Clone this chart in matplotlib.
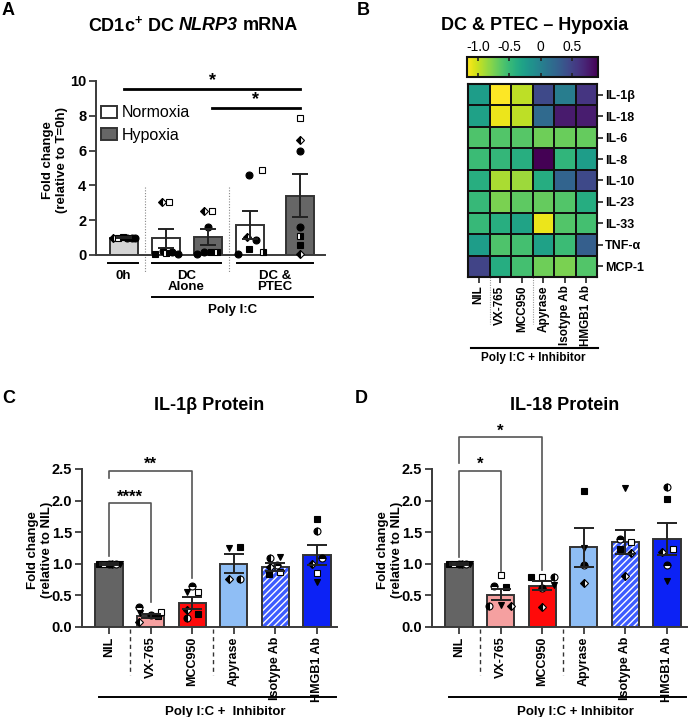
import matplotlib
matplotlib.use('Agg')
import matplotlib.pyplot as plt
import numpy as np
from matplotlib.patches import Patch

plt.rcParams['font.family'] = ['Liberation Sans', 'DejaVu Sans']
plt.rcParams['font.weight'] = 'bold'
plt.rcParams['mathtext.fontset'] = 'custom'
plt.rcParams['mathtext.rm'] = 'Liberation Sans:bold'
plt.rcParams['mathtext.it'] = 'Liberation Sans:italic:bold'
plt.rcParams['mathtext.bf'] = 'Liberation Sans:bold'
plt.rcParams['hatch.linewidth'] = 1.0

W, H = 696, 717

# ------------------------------------------------------------------ data
# Panel A: CD1c+ DC NLRP3 mRNA
a_means = [1.0, 0.96, 1.05, 1.72, 3.40]
a_sem = [0.03, 0.55, 0.46, 0.81, 1.24]
a_pts = [
    [1.0, 1.0, 1.01, 0.99, 1.0, 1.0],
    [0.05, 0.25, 3.05, 3.05, 0.1, 0.2, 0.05],
    [2.55, 2.55, 1.6, 0.05, 0.2, 0.2, 0.2],
    [0.05, 4.57, 4.9, 1.05, 0.85, 0.35, 0.2],
    [7.87, 6.62, 5.98, 1.6, 1.1, 0.55, 0.05],
]
a_codes = [
    ['d', 'S', 's', 'o', 'o', 'o'],
    ['s', 'o', 'd', 'S', 'H', 'o', 'o'],
    ['d', 'S', 'o', 'o', 'o', 's', 'H'],
    ['o', 'o', 'S', 'd', 'o', 's', 'H'],
    ['S', 'd', 'o', 'o', 'H', 's', 'd'],
]
a_groups = ['0h', 'DC\nAlone', 'DC &\nPTEC']
a_legend = ['Normoxia', 'Hypoxia']

# Panel B: heatmap
b_cols = ['NIL', 'VX-765', 'MCC950', 'Apyrase', 'Isotype Ab', 'HMGB1 Ab']
b_rows = ['IL-1β', 'IL-18', 'IL-6', 'IL-8', 'IL-10', 'IL-23', 'IL-33', 'TNF-α', 'MCP-1']
b_values = [
    [-0.24, -1.18, -0.97, 0.46, 0.04, 0.60],
    [-0.28, -1.12, -0.97, 0.20, 0.77, 0.75],
    [-0.59, -0.61, -0.63, -0.72, -0.70, -0.68],
    [-0.51, -0.47, -0.40, 0.92, -0.45, -0.24],
    [-0.40, -0.91, -0.87, -0.38, 0.25, 0.46],
    [-0.49, -0.76, -0.66, -0.68, -0.61, -0.38],
    [-0.49, -0.40, -0.30, -1.12, -0.61, -0.55],
    [-0.24, -0.59, -0.55, -0.28, -0.51, 0.29],
    [0.50, -0.38, -0.55, -0.72, -0.76, -0.61],
]
b_cticks = [-1.0, -0.5, 0.0, 0.5]
b_cticklabels = ['-1.0', '-0.5', '0', '0.5']

# Panels C & D
cd_labels = ['NIL', 'VX-765', 'MCC950', 'Apyrase', 'Isotype Ab', 'HMGB1 Ab']
c_means = [1.0, 0.18, 0.38, 1.0, 0.95, 1.14]
c_sem = [0.02, 0.03, 0.09, 0.15, 0.06, 0.16]
c_pts = [
    [1.0, 1.0, 1.0, 1.0, 1.0, 1.0],
    [0.32, 0.22, 0.08, 0.19, 0.17, 0.24],
    [0.65, 0.56, 0.55, 0.27, 0.14, 0.20],
    [1.25, 1.27, 0.76, 0.76],
    [1.09, 1.11, 0.95, 0.98, 0.84, 0.87],
    [1.71, 1.52, 1.09, 1.00, 0.85, 0.71],
]
c_codes = [
    ['s', 'S', 'o', 'h', 't', 'v'],
    ['t', 'v', 'd', 'o', 's', 'S'],
    ['t', 'v', 'S', 'd', 'h', 's'],
    ['v', 's', 'd', 'h'],
    ['h', 'v', 'd', 't', 's', 'S'],
    ['s', 'h', 't', 'd', 'S', 'v'],
]
d_means = [1.0, 0.51, 0.65, 1.26, 1.35, 1.39]
d_sem = [0.02, 0.09, 0.07, 0.31, 0.19, 0.25]
d_pts = [
    [1.0, 1.0, 1.0, 1.0, 1.0, 1.0],
    [0.82, 0.65, 0.63, 0.33, 0.35, 0.33],
    [0.79, 0.79, 0.79, 0.66, 0.62, 0.32],
    [2.15, 1.25, 0.98, 0.70],
    [2.20, 1.39, 1.35, 1.23, 1.17, 0.81],
    [2.22, 2.03, 1.23, 1.19, 0.98, 0.72],
]
d_codes = [
    ['s', 'S', 'o', 'h', 't', 'v'],
    ['S', 't', 's', 'h', 'v', 'd'],
    ['s', 'S', 'h', 'v', 't', 'd'],
    ['s', 'v', 't', 'd'],
    ['v', 't', 'S', 's', 'd', 'd'],
    ['h', 's', 'S', 'd', 't', 'v'],
]

# ------------------------------------------------------------------ style
a_pos = [0, 1, 2, 3, 4.2]
a_colors = ['#d4d4d4', 'white', '#666666', 'white', '#666666']
a_offsets = [
    [-0.26, -0.14, -0.03, 0.08, 0.18, 0.27],
    [-0.26, -0.07, -0.1, 0.06, 0.0, 0.14, 0.29],
    [-0.1, 0.1, 0.0, -0.26, -0.1, 0.07, 0.22],
    [-0.29, -0.02, 0.28, -0.08, 0.14, -0.02, 0.31],
    [0, 0, 0, 0, 0, 0, 0],
]
cd_colors = ['#646464', '#f5a0a0', '#ff0a0a', '#8fbef5', '#3d5cff', '#0c22f5']
c_offsets = [
    [-0.25, -0.12, 0.0, 0.08, 0.17, 0.27],
    [-0.28, -0.26, -0.28, 0.0, 0.17, 0.24],
    [0.0, -0.12, 0.15, -0.12, -0.12, 0.15],
    [-0.12, 0.15, -0.12, 0.15],
    [-0.13, 0.12, -0.12, 0.05, -0.15, 0.12],
    [0.0, 0.0, 0.12, -0.12, 0.0, 0.0],
]
d_offsets = [
    [-0.25, -0.12, 0.0, 0.08, 0.17, 0.27],
    [0.0, -0.15, 0.12, -0.28, 0.0, 0.25],
    [-0.27, 0.0, 0.29, 0.29, 0.0, 0.0],
    [0, 0, 0, 0],
    [0.0, -0.12, 0.14, -0.12, 0.14, 0.0],
    [0.0, 0.0, 0.15, -0.12, 0.0, 0.0],
]

MARKERS = {
    'o': ('o', 'full', 'black'),
    's': ('s', 'full', 'black'),
    'S': ('s', 'full', 'white'),
    'h': ('o', 'left', 'black'),
    't': ('o', 'top', 'black'),
    'H': ('s', 'right', 'black'),
    'v': ('v', 'full', 'black'),
    'd': ('D', 'left', 'black'),
}
SPINE = '#3a3a3a'
TICK_FS = 10.5


def px2fig(l, t, r, b):
    return [l / W, 1 - b / H, (r - l) / W, (b - t) / H]


def draw_points(ax, x, values, codes, offsets, ms=5.0):
    for v, c, o in zip(values, codes, offsets):
        m, fs, fc = MARKERS[c]
        size = ms * 0.8 if m == 'D' else ms
        ax.plot([x + o], [v], linestyle='none', marker=m, fillstyle=fs,
                markerfacecolor=fc, markerfacecoloralt='white',
                markeredgecolor='black', markeredgewidth=0.8,
                markersize=size, zorder=4, clip_on=False)


def style_axes(ax):
    for s in ['top', 'right']:
        ax.spines[s].set_visible(False)
    for s in ['left', 'bottom']:
        ax.spines[s].set_linewidth(1.4)
        ax.spines[s].set_color(SPINE)
    ax.tick_params(axis='both', width=1.3, length=5, color=SPINE,
                   labelsize=TICK_FS, pad=2)


fig = plt.figure(figsize=(W / 100, H / 100), dpi=100)
renderer = fig.canvas.get_renderer()

# ------------------------------------------------------------------ Panel A
axA = fig.add_axes(px2fig(96, 81, 325, 255))
style_axes(axA)
axA.bar(a_pos, a_means, width=0.667, color=a_colors, edgecolor='#333333',
        linewidth=1.4, zorder=2)
for i in range(len(a_pos)):
    draw_points(axA, a_pos[i], a_pts[i], a_codes[i], a_offsets[i])
axA.errorbar(a_pos, a_means, yerr=a_sem, fmt='none', ecolor='#222222',
             elinewidth=1.4, capsize=6, capthick=1.4, zorder=5)
axA.set_xlim(-0.667, 4.786)
axA.set_ylim(0, 10)
axA.set_yticks([0, 2, 4, 6, 8, 10])
axA.set_xticks([])
for lab in axA.get_yticklabels():
    lab.set_fontweight('bold')

# separators
for xs in [0.5, 2.5]:
    axA.plot([xs, xs], [3.9, -1.03], color='#888888', lw=0.8,
             ls=(0, (1, 1.5)), clip_on=False)
# group lines & labels
a_spans = [(-0.38, 0.33), (0.67, 2.31), (2.69, 4.5)]
for (x0, x1), g in zip(a_spans, a_groups):
    axA.plot([x0, x1], [-0.46, -0.46], color='black', lw=1.4, clip_on=False)
    axA.text((x0 + x1) / 2, -0.85, g, ha='center', va='top', fontsize=9.5,
             linespacing=0.95)
axA.plot([0.67, 4.5], [-2.41, -2.41], color='black', lw=1.4, clip_on=False)
axA.text(2.58, -3.15, 'Poly I:C', ha='center', va='center', fontsize=9.5)
# significance
axA.plot([0.0, 4.2], [9.54, 9.54], color='black', lw=2, clip_on=False)
axA.plot([2.1, 4.2], [8.45, 8.45], color='black', lw=2, clip_on=False)
axA.text(2.1, 9.55, '*', ha='center', va='bottom', fontsize=13)
axA.text(3.12, 8.45, '*', ha='center', va='bottom', fontsize=13)
# legend
handles = [Patch(facecolor='white', edgecolor='#333333', linewidth=1.4, label=a_legend[0]),
           Patch(facecolor='#666666', edgecolor='#333333', linewidth=1.4, label=a_legend[1])]
leg = axA.legend(handles=handles, loc='upper left', bbox_to_anchor=(0.02, 0.86),
                 frameon=False, prop={'size': 11.5, 'weight': 'normal'},
                 handlelength=1.0, handleheight=0.8, handletextpad=0.3,
                 labelspacing=0.45, borderaxespad=0, borderpad=0)

fig.text(55 / W, 1 - 160 / H, 'Fold change\n(relative to T=0h)', rotation=90,
         ha='center', va='center', fontsize=9.5, linespacing=1.15)

# Title A built from pieces so that NLRP3 is fully italic
title_parts = [(r'CD1c$^{+}$ DC', 'normal'), ('NLRP3', 'italic'), ('mRNA', 'normal')]
gap_px = 5.0
texts = [fig.text(0, 1 - 25 / H, s, ha='left', va='center', fontsize=13, style=st)
         for s, st in title_parts]
widths = [t.get_window_extent(renderer=renderer).width for t in texts]
total = sum(widths) + gap_px * (len(widths) - 1)
xcur = 193 - total / 2
for t, w in zip(texts, widths):
    t.set_x(xcur / W)
    xcur += w + gap_px

fig.text(2 / W, 1 - 2 / H, 'A', ha='left', va='top', fontsize=13)

# ------------------------------------------------------------------ Panel B
axB = fig.add_axes(px2fig(468, 84, 597, 277))
vals = np.array(b_values)
mesh = axB.pcolormesh(np.arange(len(b_cols) + 1), np.arange(len(b_rows) + 1), vals,
                      cmap='viridis_r', vmin=-1.18, vmax=0.92,
                      edgecolors='#111111', linewidth=1.3)
axB.set_xlim(0, len(b_cols))
axB.set_ylim(len(b_rows), 0)
axB.set_xticks(np.arange(len(b_cols)) + 0.5)
axB.set_xticklabels(b_cols, rotation=90, fontsize=8.5)
axB.set_yticks(np.arange(len(b_rows)) + 0.5)
axB.set_yticklabels(b_rows, fontsize=9)
axB.yaxis.tick_right()
axB.tick_params(axis='both', length=4, width=1.2, color='#222222', pad=2)
for s in axB.spines.values():
    s.set_linewidth(1.5)
    s.set_color('#111111')
for xs in [1, 3]:
    axB.plot([xs, xs], [9, 11.2], color='#999999', lw=0.8, ls=(0, (1, 1.2)),
             clip_on=False)
axB.plot([0.15, 6.05], [12.33, 12.33], color='black', lw=1.5, clip_on=False)
axB.text(3.05, 12.8, 'Poly I:C + Inhibitor', ha='center', va='center', fontsize=8.5)

caxB = fig.add_axes(px2fig(467, 57, 598, 77))
cb = fig.colorbar(mesh, cax=caxB, orientation='horizontal', ticks=b_cticks)
cb.ax.set_xticklabels(b_cticklabels, fontweight='normal', fontsize=10)
cb.outline.set_linewidth(1.5)
cb.outline.set_edgecolor('#111111')
cb.ax.tick_params(axis='x', direction='in', top=True, bottom=True,
                  labeltop=True, labelbottom=False, length=3, width=1.2,
                  color='#222222', pad=2)
fig.text(535 / W, 1 - 25 / H, 'DC & PTEC – Hypoxia', ha='center', va='center',
         fontsize=13)
fig.text(357 / W, 1 - 2 / H, 'B', ha='left', va='top', fontsize=13)


# ------------------------------------------------------------------ Panels C & D
def bar_panel(rect, means, sem, pts, codes, offsets, xlab_text):
    ax = fig.add_axes(rect)
    style_axes(ax)
    xs = np.arange(len(cd_labels))
    for i in range(len(xs)):
        if i == 4:
            ax.bar(xs[i], means[i], width=0.65, color=cd_colors[i],
                   edgecolor='white', hatch='/////', linewidth=0, zorder=2)
            ax.bar(xs[i], means[i], width=0.65, color='none',
                   edgecolor='#333333', linewidth=1.4, zorder=2)
        else:
            ax.bar(xs[i], means[i], width=0.65, color=cd_colors[i],
                   edgecolor='#333333', linewidth=1.4, zorder=2)
        draw_points(ax, xs[i], pts[i], codes[i], offsets[i])
    ax.errorbar(xs, means, yerr=sem, fmt='none', ecolor='#222222',
                elinewidth=1.4, capsize=7, capthick=1.4, zorder=5)
    ax.set_xlim(-0.649, 5.481)
    ax.set_ylim(0, 2.5)
    ax.set_yticks([0, 0.5, 1.0, 1.5, 2.0, 2.5])
    ax.set_yticklabels(['0.0', '0.5', '1.0', '1.5', '2.0', '2.5'])
    ax.set_xticks(xs)
    ax.set_xticklabels(cd_labels, rotation=90, fontsize=9)
    for xsep in [0.5, 2.5]:
        ax.plot([xsep, xsep], [-0.03, -0.76], color='#333333', lw=1.0,
                ls=(0, (3, 2.5)), clip_on=False)
    ax.plot([-0.24, 5.45], [-1.11, -1.11], color='black', lw=1.4, clip_on=False)
    ax.text(2.79, -1.34, xlab_text, ha='center', va='center', fontsize=9.5)
    return ax


def bracket(ax, x0, x1, ytop, yl, yr, star, ystar):
    ax.plot([x0, x0, x1, x1], [yl, ytop, ytop, yr], color='#555555', lw=1.2,
            clip_on=False)
    ax.text((x0 + x1) / 2, ystar, star, ha='center', va='center', fontsize=12)


axC = bar_panel(px2fig(82, 469, 337, 627), c_means, c_sem, c_pts, c_codes,
                c_offsets, 'Poly I:C +  Inhibitor')
bracket(axC, 0, 1, 1.96, 1.12, 0.40, '****', 2.05)
bracket(axC, 0, 2, 2.47, 2.35, 0.78, '**', 2.57)
fig.text(40 / W, 1 - 550 / H, 'Fold change\n(relative to NIL)', rotation=90,
         ha='center', va='center', fontsize=9.5, linespacing=1.15)
fig.text(209 / W, 1 - 405 / H, 'IL-1β Protein', ha='center', va='center', fontsize=13)
fig.text(2 / W, 1 - 390 / H, 'C', ha='left', va='top', fontsize=13)

axD = bar_panel(px2fig(432, 469, 687, 627), d_means, d_sem, d_pts, d_codes,
                d_offsets, 'Poly I:C + Inhibitor')
bracket(axD, 0, 1, 2.47, 1.10, 0.88, '*', 2.57)
bracket(axD, 0, 2, 3.0, 2.6, 0.90, '*', 3.1)
fig.text(390 / W, 1 - 550 / H, 'Fold change\n(relative to NIL)', rotation=90,
         ha='center', va='center', fontsize=9.5, linespacing=1.15)
fig.text(565 / W, 1 - 405 / H, 'IL-18 Protein', ha='center', va='center', fontsize=13)
fig.text(355 / W, 1 - 390 / H, 'D', ha='left', va='top', fontsize=13)

fig.savefig('out.png', dpi=100)
